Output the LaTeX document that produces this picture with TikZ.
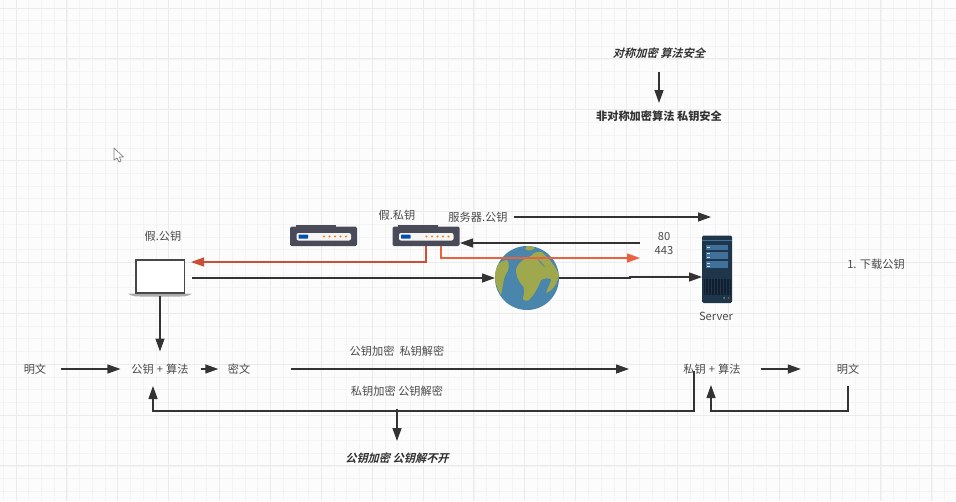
\documentclass[tikz,border=0pt]{standalone}
\usepackage{fontspec}
\usetikzlibrary{arrows.meta,calc}
\setmainfont{Noto Sans CJK SC}
\newfontfamily\noteitfont[UprightFont=* Bold,FakeSlant=0.25]{Noto Sans CJK SC}
\definecolor{gridmin}{HTML}{F4F4F4}
\definecolor{gridmaj}{HTML}{EBEBEB}
\definecolor{ink}{HTML}{333333}
\definecolor{txt}{HTML}{4A4A4A}
\definecolor{redline}{HTML}{CC4F35}
\definecolor{orangeline}{HTML}{E8623F}
\definecolor{routerbody}{HTML}{4A4B59}
\definecolor{srvbody}{HTML}{1F3549}
\definecolor{srvrow}{HTML}{3F719A}
\definecolor{srvgrille}{HTML}{0F1F30}
\definecolor{ocean}{HTML}{4A85AC}
\definecolor{land}{HTML}{A0A84E}
\tikzset{
  txtlabel/.style={inner sep=0pt,outer sep=0pt,text=txt,font=\fontsize{11.2}{13}\selectfont,text height=10pt,text depth=1pt},
  note/.style={txtlabel,text=ink,font=\fontsize{11.2}{13}\selectfont\bfseries},
  noteit/.style={txtlabel,text=ink,font=\fontsize{11.2}{13}\selectfont\noteitfont},
  box/.style={inner sep=0pt,outer sep=0pt,minimum width=#1},
  conn/.style={draw=ink,line width=1.3pt,-{Triangle[length=13pt,width=9pt]}},
  redconn/.style={draw=redline,line width=1.3pt,-{Triangle[length=13pt,width=9pt]}},
  orangeconn/.style={draw=orangeline,line width=1.3pt,-{Triangle[length=13pt,width=9pt]}},
  routerpic/.pic={
    \fill[routerbody] (-28,-11) rectangle (12,-8);
    \fill[routerbody,rounded corners=1.5pt] (-33.5,-9.5) rectangle (33.5,10);
    \fill[white!92!gray,rounded corners=2pt] (-27,-3) rectangle (27.5,4.5);
    \fill[blue!55!cyan!70!black,rounded corners=.5pt] (-25,-1.5) rectangle (-15.5,2.5);
    \foreach \dx in {0.5,6,11.5,17,22.5}
      \fill[orange!75!brown] (\dx,0.5) circle (1.1);
  }
}
\begin{document}
\begin{tikzpicture}[x=1pt,y=-1pt]
\useasboundingbox (0,0) rectangle (956,501);
\fill[white!99!black] (0,0) rectangle (956,501);
% grid
\foreach \k in {0,...,75} \draw[gridmin,line width=.7pt] ({3.3+12.72*\k},0) -- ({3.3+12.72*\k},501);
\foreach \k in {0,...,39} \draw[gridmin,line width=.7pt] (0,{8+12.72*\k}) -- (956,{8+12.72*\k});
\foreach \k in {0,...,18} \draw[gridmaj,line width=1pt] ({16+50.88*\k},0) -- ({16+50.88*\k},501);
\foreach \k in {0,...,9} \draw[gridmaj,line width=1pt] (0,{8+50.88*\k}) -- (956,{8+50.88*\k});
% cursor
\draw[gray,fill=white,line width=.7pt,line join=round] (114,148) -- (114,160) -- (117,158) -- (119,162) -- (121,161) -- (119.5,157) -- (123.5,157) -- cycle;

% top notes
\node[noteit] (sym) at (659,53) {对称加密 算法安全};
\node[note] (asym) at (659,116) {非对称加密算法 私钥安全};
\draw[conn] ($(sym.south)+(0,13)$) -- ($(asym.north)+(0,-7.5)$);

% icons as anchor boxes
\node[box=64pt,minimum height=36pt] (laptop) at (160,278) {};
\node[box=67pt,minimum height=20pt] (router1) at (323.5,236) {};
\node[box=67pt,minimum height=20pt] (router2) at (426,236) {};
\node[circle,inner sep=0pt,outer sep=0pt,minimum size=64pt] (globe) at (527,278) {};
\node[box=30pt,minimum height=68pt] (server) at (717,269.5) {};
\pic at (router1) {routerpic};
\pic at (router2) {routerpic};

% laptop
\fill[gray!65] (128,293.5) -- (192,293.5) .. controls (188,296.5) and (184,296.5) .. (180,296.5) -- (140,296.5) .. controls (136,296.5) and (132,296.5) .. (128,293.5) -- cycle;
\draw[ink!90,fill=white,line width=1.5pt] (136,260) rectangle (184.5,293);

% globe
\fill[ocean] (globe) circle (32);
\begin{scope}
\clip (globe) circle (32);
\fill[land] (516,269) .. controls (518,262) and (526,258) .. (531,256) .. controls (534,251) and (540,252) .. (542,252) .. controls (548,258) and (556,266) .. (559,275) .. controls (557,285) and (552,291) .. (546,293) .. controls (548,287) and (551,283) .. (551,279) .. controls (547,278) and (544,278) .. (541,280) .. controls (538,288) and (534,295) .. (529,300) .. controls (528,301) and (522,301) .. (523,298) .. controls (525,292) and (524,288) .. (523,286) .. controls (517,280) and (516,274) .. (516,269) -- cycle;
\fill[land] (494,270) .. controls (498,263) and (503,260) .. (507,260) .. controls (510,264) and (509,270) .. (506,274) .. controls (503,279) and (503,287) .. (501,295) .. controls (497,288) and (494,280) .. (494,270) -- cycle;
\fill[land] (527,246) .. controls (530,246) and (533,246) .. (535,248) .. controls (532,251) and (528,251) .. (525,249) -- cycle;
\fill[ocean] (537,258) .. controls (540,261) and (543,264) .. (545,267) .. controls (542,265) and (539,262) .. (537,258) -- cycle;
\end{scope}

% server
\fill[srvbody,rounded corners=1.5pt] (702,235.5) rectangle (732,303);
\draw[srvrow,line width=.5pt] (702,240) -- (732,240);
\foreach \ya/\yb in {245/250,252/259,261/267.5}
  \fill[srvrow] (706,\ya) rectangle (727.5,\yb);
\foreach \ya in {246.5,253,257,262.5,265.5}
  \fill[white!75!srvrow] (706.5,\ya) rectangle (710,{\ya+1});
\fill[srvgrille] (704,279) rectangle (730.5,295);
\foreach \dx in {0,...,8} \draw[srvbody,line width=.4pt] ({705.5+3*\dx},279) -- ({705.5+3*\dx},295);
\fill[green!50!gray] (724,298) circle (1);
\fill[red!50!gray] (728.5,298) circle (1);

% labels
\node[txtlabel] (fakepub) at (163,236) {假.公钥};
\node[txtlabel] (fakepriv) at (397,215) {假.私钥};
\node[txtlabel] (srvpub) at (478,217) {服务器.公钥};
\node[inner sep=0pt,outer sep=0pt,text=txt,align=center,font=\fontsize{11.2}{14}\selectfont] (ports) at (664,244) {80\\443};
\node[txtlabel] (srvname) at (716,316) {Server};
\node[txtlabel] (dl) at (876,264) {1. 下载公钥};

\node[txtlabel] (plainA) at (35,369) {明文};
\node[txtlabel] (algoA) at (160,369) {公钥\hspace{3pt}+\hspace{3pt}算法};
\node[txtlabel] (cipher) at (239,369) {密文};
\node[txtlabel] (algoB) at (712,369) {私钥\hspace{3pt}+\hspace{3pt}算法};
\node[txtlabel] (plainB) at (848,369) {明文};
\node[txtlabel] (lblA) at (397,351) {公钥加密\ \ 私钥解密};
\node[txtlabel] (lblB) at (397,391) {私钥加密 公钥解密};
\node[noteit] (noopen) at (397,458) {公钥加密 公钥解不开};

% connector ends
\coordinate (srvpubEnd) at (711,217);
\coordinate (srvIn) at (702,277);
\coordinate (midBend) at (630,278);
\coordinate (midBendB) at (630,277);
\coordinate (lapRed) at (191,262);
\coordinate (r2In) at (460,243);
\coordinate (orangeStart) at (441,246);
\coordinate (orangeEnd) at (640,258);
\coordinate (portsOut) at (640,243);
\coordinate (cipherEnd) at (629,369);
\coordinate (lowJoin) at (397,411);
\coordinate (algoAup) at (153,386);
\coordinate (algoBup) at (711,385);
\coordinate (algoBdown) at (694,371);
\coordinate (plainBdown) at (848,386);

% connectors
\draw[conn] ($(srvpub.east)+(6,0)$) -- (srvpubEnd);
\draw[conn] (portsOut) -- (r2In);
\draw[orangeconn] (orangeStart) |- (orangeEnd);
\draw[redconn] (router2.south) |- (lapRed);
\draw[conn] (laptop.east) -- (globe.west);
\draw[conn] (globe.east) -- (midBend) -- (midBendB) -- (srvIn);
\draw[conn] (laptop.south) -- ($(algoA.north)+(0,-12)$);
\draw[conn] ($(plainA.east)+(14.5,0)$) -- ($(algoA.west)+(-11,0)$);
\draw[conn] ($(algoA.east)+(12,0)$) -- ($(cipher.west)+(-9.5,0)$);
\draw[conn] ($(cipher.east)+(40.5,0)$) -- (cipherEnd);
\draw[conn] ($(algoB.east)+(20,0)$) -- ($(plainB.west)+(-36,0)$);
\draw[conn] (algoBdown) |- (lowJoin) -| (algoAup);
\draw[conn] ($(lowJoin)+(0,-2)$) -- ($(noopen.north)+(0,-11.5)$);
\draw[conn] (plainBdown) |- ($(algoBup)+(0,26)$) -- (algoBup);
\end{tikzpicture}
\end{document}
